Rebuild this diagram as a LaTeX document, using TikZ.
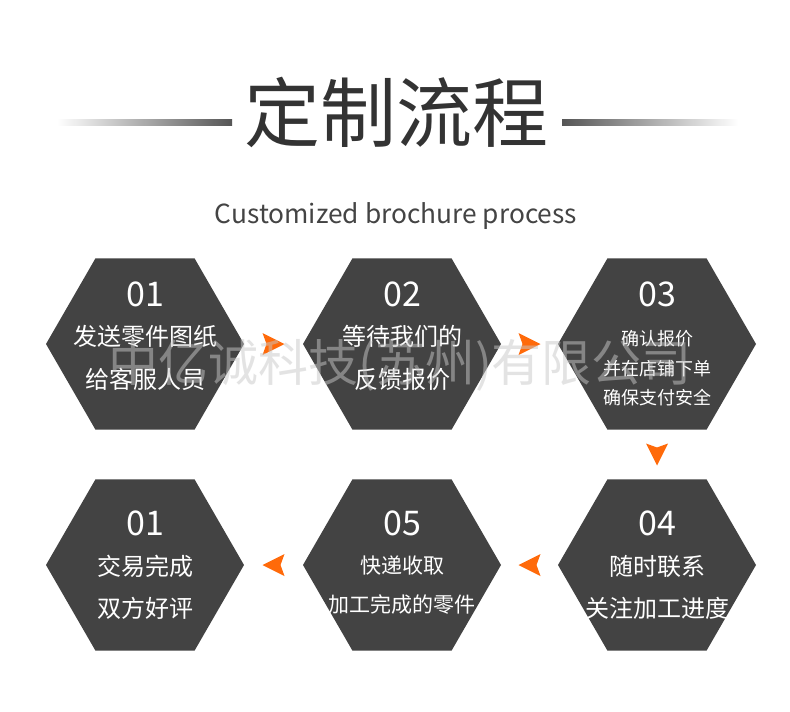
\documentclass[tikz,border=0pt]{standalone}
\usepackage{fontspec}
\setmainfont{Noto Sans CJK SC}
\usetikzlibrary{shapes.geometric,positioning}

\definecolor{hexgray}{HTML}{434343}
\definecolor{tiporange}{HTML}{FF6A0A}
\definecolor{titlegray}{HTML}{333333}
\definecolor{subgray}{HTML}{444444}
\definecolor{linegray}{HTML}{555555}
\definecolor{wmgray}{HTML}{C8C8C8}

\tikzset{
  hexstep/.style={regular polygon, regular polygon sides=6, minimum size=198pt,
    inner sep=0pt, outer sep=0pt, fill=hexgray},
  stepnum/.style={text=white, inner sep=0pt, font=\fontsize{34}{34}\selectfont},
  steptext/.style={text=white, align=center, inner sep=0pt},
  flowtip/.pic={\fill[tiporange] (11,0) -- (-11,-11) -- (-7,0) -- (-11,11) -- cycle;}
}

\begin{document}
\begin{tikzpicture}[x=1pt,y=-1pt]
\useasboundingbox[fill=white] (0,0) rectangle (790,712);

\shade[left color=white, right color=linegray] (57,119) rectangle (232,125);
\shade[left color=linegray, right color=white] (562,119) rectangle (738,125);
\node[text=titlegray, inner sep=0pt, font=\fontsize{76}{76}\selectfont] (title) at (396,112) {定制流程};
\node[text=subgray, inner sep=0pt, font=\fontsize{26.3}{26.3}\selectfont] (subtitle) at (396,216) {Customized brochure process};

\node[hexstep] (h1) at (145,344) {};
\node[hexstep] (h2) at (402,344) {};
\node[hexstep] (h3) at (657,344) {};
\node[hexstep] (h4) at (657,565) {};
\node[hexstep] (h5) at (402,565) {};
\node[hexstep] (h6) at (145,565) {};

\node[stepnum] (n1) at (145,294) {01};
\node[stepnum] (n2) at (402,294) {02};
\node[stepnum] (n3) at (657,294) {03};
\node[stepnum] (n4) at (657,523) {04};
\node[stepnum] (n5) at (402,523) {05};
\node[stepnum] (n6) at (145,523) {01};

\node[steptext, font=\fontsize{24}{43}\selectfont] (t1) at (145,357.5) {发送零件图纸\\给客服人员};
\node[steptext, font=\fontsize{24}{43}\selectfont] (t2) at (402,357.5) {等待我们的\\反馈报价};
\node[steptext, font=\fontsize{18}{29.5}\selectfont] (t3) at (657,368.5) {确认报价\\并在店铺下单\\确保支付安全};
\node[steptext, font=\fontsize{24}{42}\selectfont] (t4) at (657,587) {随时联系\\关注加工进度};
\node[steptext, font=\fontsize{21}{39}\selectfont] (t5) at (402,585.5) {快递收取\\加工完成的零件};
\node[steptext, font=\fontsize{24}{42}\selectfont] (t6) at (145,587) {交易完成\\双方好评};

\path (h1) -- (h2) coordinate[midway] (a12);
\path (h2) -- (h3) coordinate[midway] (a23);
\path (h3) -- (h4) coordinate[midway] (a34);
\path (h4) -- (h5) coordinate[midway] (a45);
\path (h5) -- (h6) coordinate[midway] (a56);
\pic at (a12) {flowtip};
\pic at (a23) {flowtip};
\pic[rotate=-90] at (a34) {flowtip};
\pic[rotate=180] at (a45) {flowtip};
\pic[rotate=180] at (a56) {flowtip};

\node[text=wmgray, text opacity=0.5, inner sep=0pt, font=\fontsize{50}{50}\selectfont] (wm) at (400,365) {中亿诚科技(苏州)有限公司};
\end{tikzpicture}
\end{document}
